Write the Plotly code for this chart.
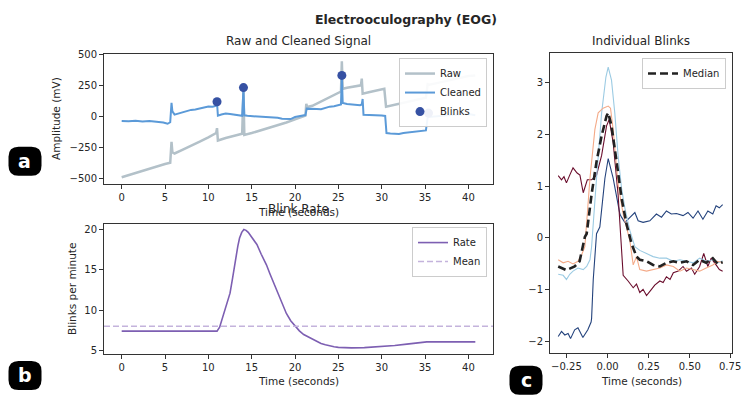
import plotly.graph_objects as go

W, H = 742, 403
FONT = "DejaVu Sans"
INK = "#262626"

# ---- Raw and cleaned EOG signal (time in s, amplitude in mV) ----
cleaned_t = [0.0, 0.8, 1.6, 2.4, 3.2, 4.0, 4.8, 5.3, 5.6, 5.75, 5.85, 6.1, 6.5, 7.0, 7.5, 8.0,
             8.5, 9.0, 9.5, 10.0, 10.5, 10.9, 11.0, 11.1, 11.5, 12.0, 12.5, 13.0, 13.5, 13.9,
             14.05, 14.15, 14.5, 15.0, 15.5, 16.0, 16.5, 17.0, 17.5, 18.0, 18.5, 19.0, 19.5,
             20.0, 20.5, 21.0, 21.2, 21.35, 22.0, 22.5, 23.0, 23.5, 24.0, 24.5, 25.0, 25.3,
             25.4, 25.5, 26.0, 26.5, 27.0, 27.5, 27.7, 27.8, 27.9, 28.5, 29.0, 29.5, 30.0,
             30.4, 30.55, 31.0, 31.5, 32.0, 32.5, 33.0, 33.5, 34.0, 34.5, 35.1, 35.3, 35.4,
             35.5, 36.0, 36.5, 37.0, 37.5, 38.0, 38.5, 39.0, 39.5, 40.0, 40.5, 40.8]
cleaned_v = [-37, -40, -36, -42, -38, -44, -50, -60, -48, 108, 40, 14, 22, 35, 42, 52,
             55, 62, 70, 80, 78, 86, 112, 5, 15, 22, 18, 15, 10, 4,
             225, 8, 4, 2, -2, -4, -6, -8, -8, -12, -20, -24, -22,
             -6, 2, 5, 10, 62, 58, 60, 58, 70, 78, 82, 90, 95,
             330, 108, 100, 96, 92, 90, 96, 140, 12, 10, 14, 12, 6,
             3, -135, -138, -140, -143, -135, -130, -125, -120, -116, -114, -10, 24,
             -5, -2, 2, 6, 10, 14, 15, 17, 16, 18, 12, 8]

raw_t = [0.0, 1.0, 2.0, 3.0, 4.0, 5.0, 5.6, 5.75, 5.85, 6.1, 7.0, 8.0, 9.0, 10.0, 10.9,
         11.0, 11.1, 12.0, 13.0, 13.9, 14.05, 14.15, 15.0, 16.0, 17.0, 18.0, 19.0, 20.0,
         21.0, 21.2, 21.3, 21.4, 22.0, 23.0, 24.0, 25.0, 25.3, 25.4, 25.5, 26.0, 27.0,
         27.6, 27.7, 27.8, 28.5, 29.5, 30.3, 30.5, 31.0, 32.0, 33.0, 34.0, 35.1, 35.3,
         35.5, 36.5, 38.0, 39.0, 40.0, 40.8]
raw_v = [-492, -470, -450, -425, -405, -385, -375, -206, -290, -300, -270, -240, -205, -170, -135,
         -95, -195, -175, -155, -140, 200, -150, -135, -115, -95, -75, -50, -25,
         -5, 5, 100, 75, 85, 120, 155, 190, 200, 445, 222, 230, 245,
         250, 305, 183, 195, 212, 222, 77, 85, 100, 118, 135, 150, 260,
         255, 270, 295, 310, 325, 330]

blink_t = [11.0, 14.05, 25.4, 35.4]
blink_v = [118, 232, 330, 26]

# ---- Blink rate (blinks per minute) ----
rate_t = [0.0, 11.0, 11.3, 11.7, 12.1, 12.5, 12.8, 13.1, 13.4, 13.6, 13.85, 14.1, 14.35, 14.6,
          15.1, 15.6, 16.1, 16.7, 17.1, 17.5, 17.9, 18.3, 18.7, 19.0, 19.5, 20.0, 20.5, 21.0,
          21.5, 22.0, 22.5, 23.0, 23.5, 24.0, 24.5, 25.0, 25.7, 26.5, 28.0, 29.8, 31.5, 32.9,
          34.2, 35.2, 40.8]
rate_v = [7.42, 7.42, 7.9, 9.2, 10.7, 12.1, 14.0, 16.1, 17.9, 18.9, 19.6, 19.95, 19.85, 19.6,
          18.9, 18.1, 16.9, 15.6, 14.5, 13.5, 12.4, 11.3, 10.3, 9.6, 8.7, 8.0, 7.45, 7.0,
          6.7, 6.4, 6.15, 5.9, 5.75, 5.6, 5.5, 5.42, 5.37, 5.35, 5.38, 5.5, 5.65, 5.82,
          5.98, 6.1, 6.1]
rate_mean = 8.03

# ---- Individual blinks (time relative to peak, normalised amplitude) ----
blink1_t = [-0.30, -0.28, -0.26, -0.24, -0.225, -0.20, -0.18, -0.15, -0.12, -0.10, -0.097,
            -0.087, -0.067, -0.047, -0.016, 0.004, 0.034, 0.064, 0.075, 0.085, 0.105,
            0.115, 0.146, 0.166, 0.186, 0.216, 0.257, 0.297, 0.328, 0.358, 0.388, 0.419,
            0.459, 0.489, 0.52, 0.55, 0.58, 0.61, 0.64, 0.66, 0.68, 0.70]
blink1_v = [-1.90, -1.80, -1.87, -1.84, -1.94, -1.77, -1.73, -1.92, -1.77, -1.62, -1.55,
            -0.80, 0.08, 0.21, 1.15, 1.53, 1.15, 0.65, 0.46, 0.40, 0.30,
            0.33, 0.43, 0.49, 0.33, 0.30, 0.33, 0.46, 0.40, 0.52, 0.46, 0.47,
            0.43, 0.49, 0.38, 0.52, 0.36, 0.52, 0.46, 0.62, 0.58, 0.64]

blink2_t = [-0.30, -0.28, -0.265, -0.25, -0.23, -0.21, -0.185, -0.168, -0.148, -0.123,
            -0.097, -0.067, -0.036, -0.006, 0.01, 0.034, 0.064, 0.085, 0.095, 0.125,
            0.156, 0.176, 0.196, 0.216, 0.237, 0.267, 0.287, 0.318, 0.338, 0.358, 0.38,
            0.40, 0.43, 0.459, 0.48, 0.51, 0.53, 0.56, 0.585, 0.61, 0.63, 0.66, 0.68, 0.70]
blink2_v = [1.20, 1.12, 1.18, 1.06, 1.21, 1.35, 1.25, 1.21, 0.87, 1.12,
            1.12, 1.21, 1.59, 2.16, 2.28, 1.84, 0.84, -0.17, -0.72, -0.83,
            -0.96, -0.89, -1.05, -0.99, -1.11, -0.99, -0.91, -0.83, -0.86, -0.75, -0.80,
            -0.67, -0.64, -0.55, -0.64, -0.58, -0.70, -0.55, -0.30, -0.55, -0.39, -0.52, -0.61, -0.64]

blink3_t = [-0.30, -0.27, -0.25, -0.23, -0.21, -0.18, -0.148, -0.127, -0.107, -0.097,
            -0.067, -0.036, -0.01, 0.004, 0.024, 0.044, 0.064, 0.085, 0.105, 0.135,
            0.166, 0.196, 0.237, 0.277, 0.318, 0.358, 0.40, 0.44, 0.48, 0.52, 0.56,
            0.60, 0.64, 0.67, 0.70]
blink3_v = [-0.70, -0.72, -0.80, -0.70, -0.64, -0.58, -0.61, -0.55, -0.42, -0.17,
            1.15, 2.41, 3.10, 3.29, 3.04, 2.41, 1.59, 0.96, 0.58, 0.15,
            -0.17, -0.24, -0.30, -0.36, -0.39, -0.39, -0.45, -0.42, -0.45, -0.48, -0.39,
            -0.45, -0.42, -0.48, -0.44]

blink4_t = [-0.30, -0.27, -0.24, -0.21, -0.18, -0.158, -0.138, -0.117, -0.107, -0.077,
            -0.057, -0.027, 0.004, 0.018, 0.034, 0.064, 0.095, 0.135, 0.156, 0.176,
            0.196, 0.237, 0.277, 0.318, 0.358, 0.40, 0.44, 0.48, 0.52, 0.56, 0.60,
            0.64, 0.67, 0.70]
blink4_v = [-0.42, -0.48, -0.45, -0.50, -0.45, -0.33, -0.17, 0.71, 1.15, 2.09,
            2.41, 2.50, 2.54, 2.50, 2.09, 1.03, 0.46, -0.04, -0.52, -0.36,
            -0.61, -0.64, -0.61, -0.58, -0.52, -0.55, -0.64, -0.58, -0.61, -0.64, -0.58,
            -0.52, -0.45, -0.48]

median_t = [-0.30, -0.25, -0.20, -0.17, -0.138, -0.127, -0.097, -0.067, -0.036, -0.006,
            0.004, 0.024, 0.055, 0.085, 0.115, 0.146, 0.176, 0.196, 0.237, 0.277, 0.318,
            0.358, 0.40, 0.44, 0.48, 0.52, 0.56, 0.60, 0.64, 0.67, 0.70]
median_v = [-0.55, -0.62, -0.55, -0.45, 0.02, 0.08, 0.84, 1.47, 1.97, 2.35,
            2.41, 2.16, 1.47, 0.77, 0.27, -0.11, -0.36, -0.42, -0.45, -0.52, -0.55,
            -0.48, -0.45, -0.48, -0.45, -0.52, -0.42, -0.48, -0.39, -0.50, -0.47]

blink_lines = [(blink1_t, blink1_v, "#23427c"), (blink2_t, blink2_v, "#6a0d2c"),
               (blink3_t, blink3_v, "#9ccbe3"), (blink4_t, blink4_v, "#f4aa88")]

blinks_x_ticks = [-0.25, 0.0, 0.25, 0.5, 0.75]

COL_RAW = "#b3c1c9"
COL_CLEAN = "#5b9ad8"
COL_BLINK = "#3651a3"
COL_RATE = "#7d5fb2"
COL_MEAN = "#c4b3dc"

top_x_range = [-2.04, 42.84]


def px(x):
    return x / W


def py(y):
    return 1 - y / H


fig = go.Figure()

# panel a
fig.add_trace(go.Scatter(x=raw_t, y=raw_v, mode="lines", name="Raw",
                         line=dict(color=COL_RAW, width=2.5), xaxis="x", yaxis="y", legend="legend"))
fig.add_trace(go.Scatter(x=cleaned_t, y=cleaned_v, mode="lines", name="Cleaned",
                         line=dict(color=COL_CLEAN, width=2), xaxis="x", yaxis="y", legend="legend"))
fig.add_trace(go.Scatter(x=blink_t, y=blink_v, mode="markers", name="Blinks",
                         marker=dict(color=COL_BLINK, size=9), xaxis="x", yaxis="y", legend="legend"))

# panel b
fig.add_trace(go.Scatter(x=rate_t, y=rate_v, mode="lines", name="Rate",
                         line=dict(color=COL_RATE, width=1.6),
                         xaxis="x2", yaxis="y2", legend="legend2"))
fig.add_trace(go.Scatter(x=top_x_range, y=[rate_mean, rate_mean], mode="lines", name="Mean",
                         line=dict(color=COL_MEAN, width=1.6, dash="6px,3px"),
                         xaxis="x2", yaxis="y2", legend="legend2"))

# panel c
for bt, bv, col in blink_lines:
    fig.add_trace(go.Scatter(x=bt, y=bv, mode="lines", showlegend=False,
                             line=dict(color=col, width=1.1), xaxis="x3", yaxis="y3"))
fig.add_trace(go.Scatter(x=median_t, y=median_v, mode="lines", name="Median",
                         line=dict(color="#222222", width=2.6, dash="8px,4px"),
                         xaxis="x3", yaxis="y3", legend="legend3"))

axis_style = dict(showline=True, mirror=True, linecolor="#333333", linewidth=1,
                  ticks="outside", ticklen=4, tickwidth=1, tickcolor="#333333",
                  showgrid=False, zeroline=False,
                  tickfont=dict(family=FONT, size=10, color=INK))

legend_style = dict(bgcolor="rgba(255,255,255,0.92)", bordercolor="#cccccc", borderwidth=1,
                    font=dict(family=FONT, size=10, color=INK), xanchor="right", yanchor="top",
                    tracegroupgap=0, itemwidth=30)

# the last tick label of the blink axis sits at the page edge; it is written
# as a right-aligned label so that it stays inside the page
blink_tick_text = [f"{v:.2f}".replace("-", "\u2212") for v in blinks_x_ticks]
edge_label = blink_tick_text[-1]
blink_tick_text[-1] = ""

fig.update_layout(
    width=W, height=H,
    margin=dict(l=0, r=0, t=0, b=0),
    paper_bgcolor="white", plot_bgcolor="white",
    font=dict(family=FONT, color=INK),
    xaxis=dict(domain=[px(104), px(493)], range=top_x_range, anchor="y",
               tickvals=[0, 5, 10, 15, 20, 25, 30, 35, 40], **axis_style),
    yaxis=dict(domain=[py(182), py(50)], range=[-545, 502], anchor="x",
               tickvals=[-500, -250, 0, 250, 500], **axis_style),
    xaxis2=dict(domain=[px(104), px(493)], range=top_x_range, anchor="y2",
                tickvals=[0, 5, 10, 15, 20, 25, 30, 35, 40], **axis_style),
    yaxis2=dict(domain=[py(355), py(222.7)], range=[4.62, 20.65], anchor="x2",
                tickvals=[5, 10, 15, 20], **axis_style),
    xaxis3=dict(domain=[px(550), px(731.7)], range=[-0.35, 0.755], anchor="y3",
                tickvals=blinks_x_ticks, ticktext=blink_tick_text, **axis_style),
    yaxis3=dict(domain=[py(354.3), py(49)], range=[-2.22, 3.56], anchor="x3",
                tickvals=[-2, -1, 0, 1, 2, 3], **axis_style),
    legend=dict(x=px(487), y=py(54), **legend_style),
    legend2=dict(x=px(487), y=py(226), **legend_style),
    legend3=dict(x=px(726), y=py(54), **legend_style),
)

fig.add_annotation(text=edge_label, x=1.0, y=py(367.5), xref="paper", yref="paper",
                   showarrow=False, xanchor="right", yanchor="middle",
                   font=dict(family=FONT, size=10, color=INK), borderpad=0)

# titles and axis labels
texts = [
    ("<b>Electrooculography (EOG)</b>", 406, 15, 12.5, 0),
    ("Raw and Cleaned Signal", 298.5, 37, 12, 0),
    ("Individual Blinks", 641, 37, 12, 0),
    ("Time (seconds)", 298.5, 211, 10.5, 0),
    ("Blink Rate", 298.5, 208, 12, 0),
    ("Time (seconds)", 298.5, 383, 10.5, 0),
    ("Time (seconds)", 641, 383, 10.5, 0),
    ("Amplitude (mV)", 56, 116, 10.5, -90),
    ("Blinks per minute", 72, 289, 10.5, -90),
]
for txt, x, y, size, ang in texts:
    fig.add_annotation(text=txt, x=px(x), y=py(y), xref="paper", yref="paper",
                       showarrow=False, xanchor="center", yanchor="middle", textangle=ang,
                       font=dict(family=FONT, size=size, color=INK))

# panel badges
bw, bh, r = 16.5, 14.5, 10
badge_path = (f"M {-bw + r},{-bh} L {bw - r},{-bh} Q {bw},{-bh} {bw},{-bh + r} "
              f"L {bw},{bh - r} Q {bw},{bh} {bw - r},{bh} L {-bw + r},{bh} "
              f"Q {-bw},{bh} {-bw},{bh - r} L {-bw},{-bh + r} Q {-bw},{-bh} {-bw + r},{-bh} Z")
for letter, cx, cy in [("a", 25, 159), ("b", 25, 377), ("c", 526, 382)]:
    fig.add_shape(type="path", path=badge_path, xref="paper", yref="paper",
                  xsizemode="pixel", ysizemode="pixel", xanchor=px(cx), yanchor=py(cy),
                  fillcolor="black", line=dict(width=0))
    fig.add_annotation(text=f"<b>{letter}</b>", x=px(cx), y=py(cy), xref="paper", yref="paper",
                       showarrow=False, xanchor="center", yanchor="middle",
                       font=dict(family=FONT, size=19, color="white"))

fig.write_html("out.html", config={"displayModeBar": False})
